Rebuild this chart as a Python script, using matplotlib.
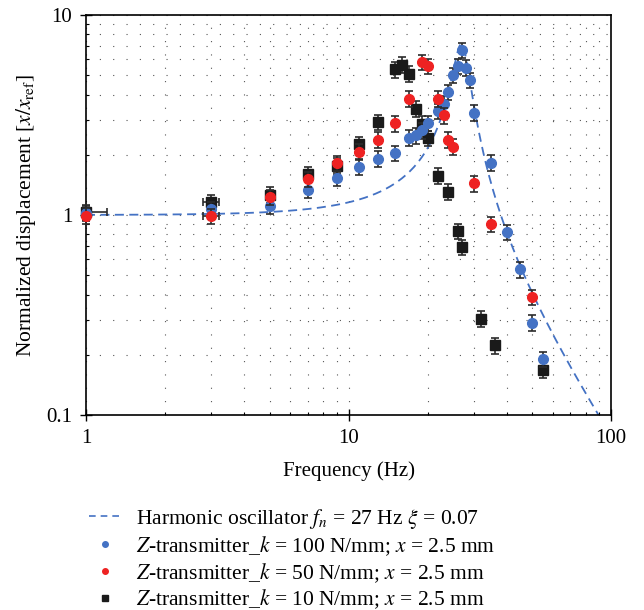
import numpy as np
import matplotlib.pyplot as plt
from matplotlib.lines import Line2D

plt.rcParams['font.family'] = 'Liberation Serif'
plt.rcParams['mathtext.fontset'] = 'stix'

# k = 100 N/mm (blue)
f_100 = [1, 3, 5, 7, 9, 11, 13, 15, 17, 18, 19, 20, 22, 23, 24, 25, 26, 27, 28, 29, 30, 35, 40, 45, 50, 55]
d_100 = [1.02, 1.07, 1.11, 1.34, 1.53, 1.74, 1.91, 2.04, 2.43, 2.50, 2.65, 2.88, 3.31, 3.59, 4.12,
         5.01, 5.56, 6.68, 5.45, 4.72, 3.25, 1.83, 0.82, 0.535, 0.29, 0.19]

# k = 50 N/mm (red)
f_50 = [1, 3, 5, 7, 9, 11, 13, 15, 17, 19, 20, 22, 23, 24, 25, 30, 35, 50]
d_50 = [0.99, 0.985, 1.23, 1.51, 1.81, 2.07, 2.38, 2.87, 3.81, 5.82, 5.56, 3.81, 3.15, 2.38, 2.20,
        1.44, 0.90, 0.388]

# k = 10 N/mm (black)
f_10 = [1, 3, 5, 7, 9, 11, 13, 15, 16, 17, 18, 19, 20, 22, 24, 26, 27, 32, 36, 55]
d_10 = [1.035, 1.16, 1.26, 1.60, 1.76, 2.26, 2.91, 5.35, 5.64, 5.09, 3.39, 2.86, 2.42, 1.57, 1.31,
        0.83, 0.69, 0.303, 0.223, 0.168]

# horizontal error bars only on the first points (lower, upper)
xerr_10 = [[0, 0.2] + [0] * (len(f_10) - 2), [0.2, 0.2] + [0] * (len(f_10) - 2)]
xerr_50 = [[0, 0.2] + [0] * (len(f_50) - 2), [0, 0.2] + [0] * (len(f_50) - 2)]
rel_err = 0.09

fn = 27
xi = 0.07

fig = plt.figure(figsize=(6.44, 6.10), dpi=100)
ax = fig.add_axes([0.1335, 0.3197, 0.8155, 0.6557])

# harmonic oscillator response
f = np.logspace(0, 2, 400)
r = f / fn
amp = 1 / np.sqrt((1 - r**2)**2 + (2 * xi * r)**2)
ax.plot(f, amp, color='#4472C4', ls=(0, (5, 3)), lw=1.3, zorder=2)

err_kw = dict(ecolor='#2b2b2b', elinewidth=1.2, capsize=3, capthick=1.2, ls='none')
for fx, dy, xe, fmt, col, z in [(f_10, d_10, xerr_10, 's', '#1a1a1a', 3),
                                (f_100, d_100, None, 'o', '#4472C4', 4),
                                (f_50, d_50, xerr_50, 'o', '#EE2222', 5)]:
    eb = ax.errorbar(fx, dy, yerr=rel_err * np.array(dy), xerr=xe, fmt=fmt,
                     color=col, ms=7, zorder=z, **err_kw)
    eb[0].set_clip_on(False)
    for c in eb[1] + eb[2]:
        c.set_clip_on(False)

ax.set_xscale('log')
ax.set_yscale('log')
ax.set_xlim(1, 100)
ax.set_ylim(0.1, 10)
ax.set_xticks([1, 10, 100])
ax.set_xticklabels(['1', '10', '100'])
ax.set_yticks([0.1, 1, 10])
ax.set_yticklabels(['0.1', '1', '10'])
ax.tick_params(which='major', length=8, width=1, labelsize=15, direction='inout', pad=6)
ax.tick_params(which='minor', length=2.5, width=0.8, direction='in')
ax.yaxis.set_minor_formatter(plt.NullFormatter())
ax.xaxis.set_minor_formatter(plt.NullFormatter())
ax.grid(True, which='both', color='#555555', ls=(0, (1, 11)), lw=0.8)
for s in ax.spines.values():
    s.set_linewidth(1.2)

ax.set_xlabel('Frequency (Hz)', fontsize=15, labelpad=10)
ax.set_ylabel(r'Normalized displacement [$x/x_{\mathrm{ref}}$]', fontsize=15.5, labelpad=6)

handles = [
    Line2D([], [], color='#4472C4', ls=(0, (4, 3)), lw=1.2),
    Line2D([], [], color='#4472C4', marker='o', ls='none', ms=4),
    Line2D([], [], color='#EE2222', marker='o', ls='none', ms=4),
    Line2D([], [], color='#1a1a1a', marker='s', ls='none', ms=4),
]
labels = [
    r'Harmonic oscillator $f_n$ = 27 Hz $\xi$ = 0.07',
    r'$Z$-transmitter_$k$ = 100 N/mm; $x$ = 2.5 mm',
    r'$Z$-transmitter_$k$ = 50 N/mm; $x$ = 2.5 mm',
    r'$Z$-transmitter_$k$ = 10 N/mm; $x$ = 2.5 mm',
]
fig.legend(handles, labels, loc='upper left', bbox_to_anchor=(0.125, 0.183), frameon=False,
           fontsize=15.5, handlelength=1.5, handletextpad=0.7, labelspacing=0.15,
           borderaxespad=0)

fig.savefig('out.png', dpi=100)
